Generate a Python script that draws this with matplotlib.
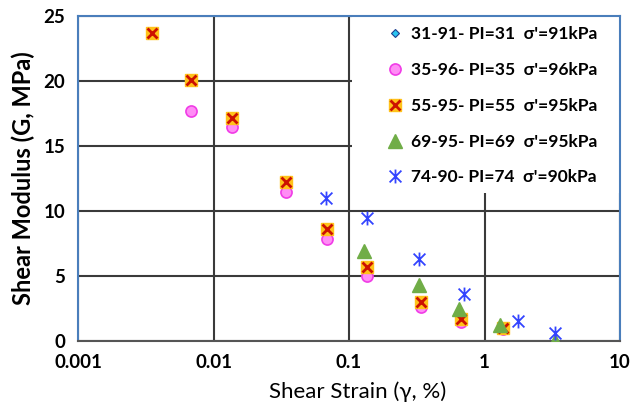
import numpy as np
import matplotlib
matplotlib.use("Agg")
import matplotlib.pyplot as plt
from matplotlib.path import Path
from matplotlib.patches import Rectangle
from matplotlib.legend_handler import HandlerTuple

plt.rcParams['font.family'] = ['Lato', 'DejaVu Sans']

# dados (deformação em %, G em MPa)
strain_31 = [0.0068, 0.0137, 0.034, 0.069, 0.136, 0.34, 0.67, 1.37]
g_31 = [17.7, 16.4, 11.5, 7.85, 5.0, 2.6, 1.5, 0.9]

strain_35 = [0.0068, 0.0137, 0.034, 0.069, 0.136, 0.34, 0.67, 1.37]
g_35 = [17.7, 16.45, 11.5, 7.85, 5.0, 2.6, 1.5, 0.9]

strain_55 = [0.0035, 0.0068, 0.0137, 0.034, 0.069, 0.136, 0.34, 0.67, 1.37]
g_55 = [23.7, 20.1, 17.15, 12.2, 8.6, 5.7, 3.0, 1.7, 1.0]

strain_69 = [0.13, 0.33, 0.65, 1.3, 3.3]
g_69 = [6.9, 4.3, 2.45, 1.2, 0.0]

strain_74 = [0.068, 0.135, 0.33, 0.71, 1.77, 3.3]
g_74 = [11.0, 9.5, 6.3, 3.6, 1.55, 0.6]

labels = ["31-91- PI=31  σ'=91kPa", "35-96- PI=35  σ'=96kPa", "55-95- PI=55  σ'=95kPa",
          "69-95- PI=69  σ'=95kPa", "74-90- PI=74  σ'=90kPa"]

x_ticks = [0.001, 0.01, 0.1, 1, 10]
x_ticklabels = ["0.001", "0.01", "0.1", "1", "10"]
y_ticks = [0, 5, 10, 15, 20, 25]

# marcador estrela do Excel (X + linha vertical)
star = Path([(0, -1), (0, 1), (-0.85, -0.85), (0.85, 0.85), (-0.85, 0.85), (0.85, -0.85)],
            [Path.MOVETO, Path.LINETO, Path.MOVETO, Path.LINETO, Path.MOVETO, Path.LINETO])

fig = plt.figure(figsize=(6.32, 4.08), dpi=100)
ax = fig.add_axes([78 / 632, 1 - 341 / 408, 542 / 632, 325 / 408])

h31, = ax.plot(strain_31, g_31, ls='none', marker='D', ms=4.5, mfc='#29c5f0', mec='#1f3f8f', mew=0.8, zorder=3)
h35, = ax.plot(strain_35, g_35, ls='none', marker='o', ms=8, mfc='#ff8cf5', mec='#f03ce6', mew=1.2, zorder=4)
h55a, = ax.plot(strain_55, g_55, ls='none', marker='s', ms=8, mfc='#ffc21a', mec='#ffc21a', zorder=5)
h55b, = ax.plot(strain_55, g_55, ls='none', marker='x', ms=6.5, mec='#cc1100', mew=2.0, zorder=6)
h69, = ax.plot(strain_69, g_69, ls='none', marker='^', ms=10, mfc='#70ad47', mec='#70ad47', zorder=7)
h74, = ax.plot(strain_74, g_74, ls='none', marker=star, ms=10, mec='#3344ff', mfc='none', mew=1.3, zorder=8)

ax.set_xscale('log')
ax.set_xlim(0.001, 10)
ax.set_ylim(0, 25)
ax.set_xticks(x_ticks)
ax.set_xticklabels(x_ticklabels)
ax.set_yticks(y_ticks)
ax.minorticks_off()
ax.tick_params(length=0, labelsize=13.5, pad=9)
for t in ax.get_xticklabels() + ax.get_yticklabels():
    t.set_fontweight('bold')

ax.grid(True, color='#3a3a3a', lw=1.5)
ax.set_axisbelow(True)
for s in ['left', 'top', 'right']:
    ax.spines[s].set_color('#4a7ebb')
    ax.spines[s].set_linewidth(1.5)
ax.spines['bottom'].set_color('#555555')
ax.spines['bottom'].set_linewidth(1.5)

ax.set_xlabel("Shear Strain (γ, %)", fontsize=16, labelpad=7)
ax.xaxis.set_label_coords(0.515, -0.125)
ax.set_ylabel("Shear Modulus (G, MPa)", fontsize=17, fontweight='bold', labelpad=6)

# fundo branco da legenda (esconde a grade)
ax.add_patch(Rectangle((0.506, 0.455), 0.494, 0.545, transform=ax.transAxes,
                       facecolor='white', edgecolor='none', zorder=2))

leg = ax.legend([h31, h35, (h55a, h55b), h69, h74], labels,
                handler_map={tuple: HandlerTuple(ndivide=1)},
                loc='upper left', bbox_to_anchor=(0.555, 0.995), borderaxespad=0,
                prop={'weight': 'bold', 'size': 12.5}, labelspacing=1.14,
                handlelength=0.9, handletextpad=0.45, borderpad=0.5,
                frameon=False)
leg.set_zorder(10)

fig.savefig("out.png", dpi=100)
